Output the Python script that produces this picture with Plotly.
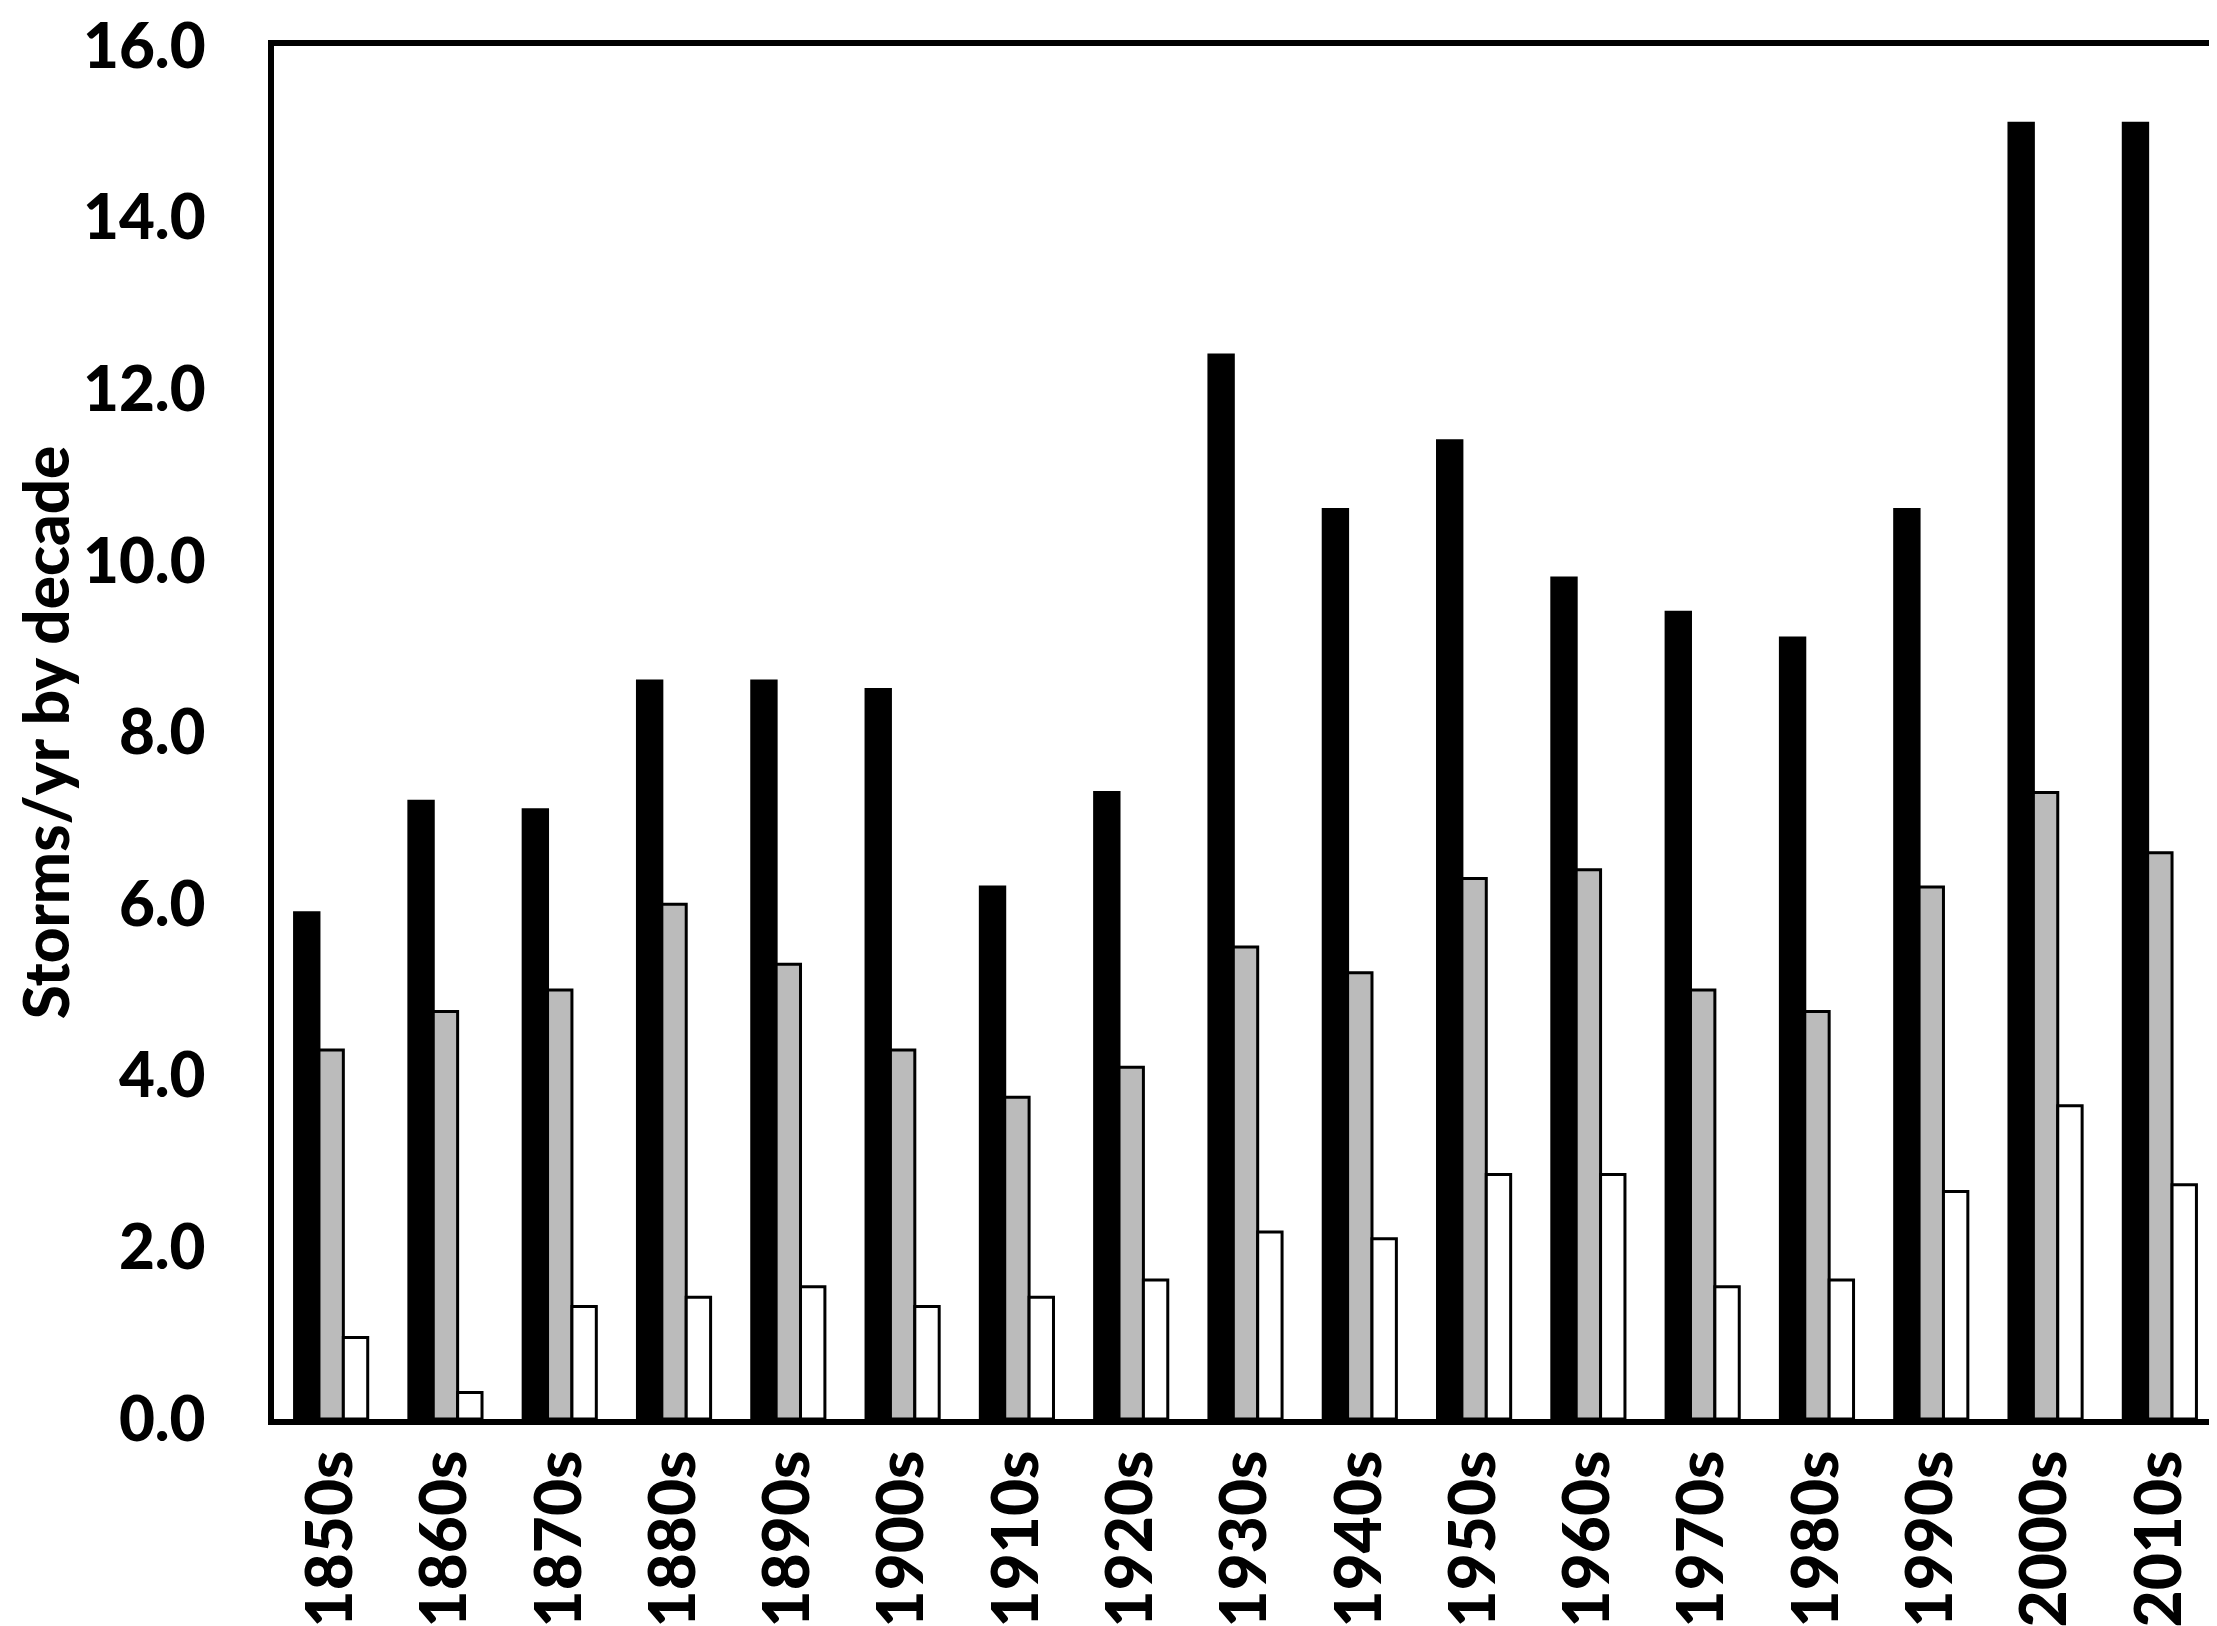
import plotly.graph_objects as go

decades = ["1850s", "1860s", "1870s", "1880s", "1890s", "1900s", "1910s", "1920s", "1930s",
           "1940s", "1950s", "1960s", "1970s", "1980s", "1990s", "2000s", "2010s"]
# three series per decade: black, grey, white bars
black_vals = [5.9, 7.2, 7.1, 8.6, 8.6, 8.5, 6.2, 7.3, 12.4, 10.6, 11.4, 9.8, 9.4, 9.1, 10.6, 15.1, 15.1]
grey_vals = [4.3, 4.75, 5.0, 6.0, 5.3, 4.3, 3.75, 4.1, 5.5, 5.2, 6.3, 6.4, 5.0, 4.75, 6.2, 7.3, 6.6]
white_vals = [0.95, 0.31, 1.31, 1.42, 1.54, 1.31, 1.42, 1.62, 2.18, 2.1, 2.85, 2.85, 1.54, 1.62, 2.65, 3.65, 2.73]
y_ticks = [0, 2, 4, 6, 8, 10, 12, 14, 16]

font_name = "Lato"

fig = go.Figure()
for vals, fill in [(black_vals, "#000000"), (grey_vals, "#BBBBBB"), (white_vals, "#FFFFFF")]:
    fig.add_trace(go.Bar(x=decades, y=vals,
                         marker=dict(color=fill, line=dict(color="#000000", width=3))))

fig.update_layout(
    width=2217, height=1626,
    margin=dict(l=266, r=8, t=38, b=215),
    paper_bgcolor="white", plot_bgcolor="white",
    barmode="group", bargap=0.36, bargroupgap=0.0,
    showlegend=False,
    font=dict(family=font_name, color="black"),
)
fig.update_xaxes(
    automargin=False,
    showline=True, linecolor="black", linewidth=6, mirror=True,
    showgrid=False, ticks="", tickangle=-90,
    tickfont=dict(size=64, family=font_name, weight=900),
)
fig.update_yaxes(
    automargin=False,
    range=[0, 16], tickvals=y_ticks, tickformat=".1f",
    showline=True, linecolor="black", linewidth=6, mirror=True,
    showgrid=False, zeroline=False, ticks="",
    ticklabelstandoff=50, ticklabeloverflow="allow",
    tickfont=dict(size=62, family=font_name, weight=900),
    title=dict(text="Storms/yr by decade", standoff=2,
               font=dict(size=62, family=font_name, weight=900)),
)

fig.write_html("out.html")
